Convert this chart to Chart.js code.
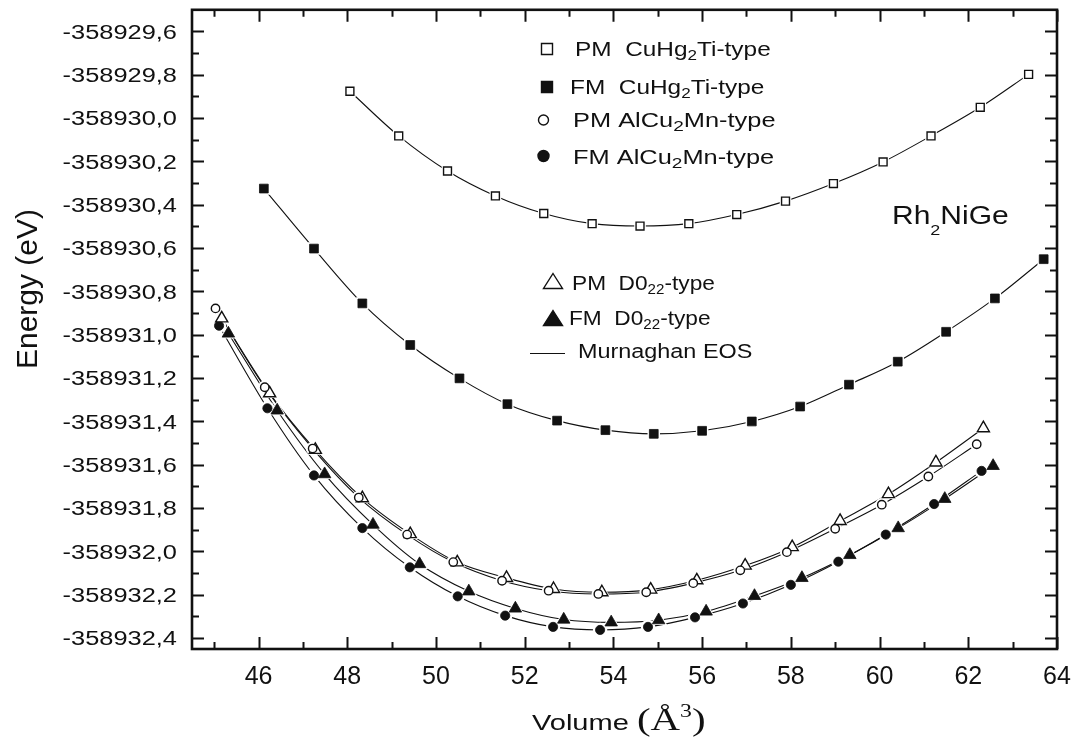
<!DOCTYPE html>
<html>
<head>
<meta charset="utf-8">
<title>Rh2NiGe – energy vs volume</title>
<script src="https://cdn.jsdelivr.net/npm/chart.js@4.4.1/dist/chart.umd.min.js"></script>
<style>
  html, body { margin: 0; padding: 0; background: #fff; }
  #wrap { width: 1074px; height: 742px; position: relative; }
</style>
</head>
<body>
<div id="wrap"><canvas id="chart"></canvas></div>
<script>
// ---- Data: volume (Å^3) and total energy (eV) for each phase ----
const volPMCuHg2Ti = [48.06, 49.16, 50.26, 51.34, 52.43, 53.52, 54.60, 55.70, 56.78, 57.88, 58.96, 60.08, 61.16, 62.27, 63.36];
const ePMCuHg2Ti   = [-358929.876, -358930.082, -358930.244, -358930.359, -358930.440, -358930.487, -358930.498, -358930.487, -358930.445, -358930.383, -358930.302, -358930.202, -358930.082, -358929.950, -358929.798];

const volFMCuHg2Ti = [46.12, 47.25, 48.34, 49.42, 50.53, 51.61, 52.73, 53.82, 54.91, 56.00, 57.12, 58.21, 59.31, 60.41, 61.50, 62.60, 63.70];
const eFMCuHg2Ti   = [-358930.325, -358930.602, -358930.855, -358931.047, -358931.201, -358931.320, -358931.396, -358931.440, -358931.457, -358931.443, -358931.400, -358931.331, -358931.230, -358931.124, -358930.986, -358930.832, -358930.651];

const volPMAlCu2Mn = [45.03, 46.14, 47.22, 48.26, 49.35, 50.39, 51.49, 52.54, 53.66, 54.74, 55.80, 56.86, 57.91, 59.00, 60.05, 61.10, 62.19];
const ePMAlCu2Mn   = [-358930.878, -358931.242, -358931.525, -358931.751, -358931.922, -358932.049, -358932.135, -358932.181, -358932.196, -358932.188, -358932.146, -358932.087, -358932.003, -358931.895, -358931.784, -358931.654, -358931.505];

const volFMAlCu2Mn = [45.11, 46.20, 47.25, 48.34, 49.41, 50.49, 51.56, 52.64, 53.70, 54.78, 55.84, 56.92, 58.00, 59.07, 60.14, 61.23, 62.30];
const eFMAlCu2Mn   = [-358930.958, -358931.339, -358931.649, -358931.892, -358932.073, -358932.207, -358932.296, -358932.348, -358932.362, -358932.348, -358932.304, -358932.240, -358932.154, -358932.047, -358931.922, -358931.781, -358931.628];

const volPMD022 = [45.17, 46.25, 47.28, 48.34, 49.42, 50.48, 51.59, 52.65, 53.74, 54.84, 55.88, 56.97, 58.03, 59.11, 60.20, 61.27, 62.34];
const ePMD022   = [-358930.924, -358931.270, -358931.531, -358931.754, -358931.920, -358932.050, -358932.122, -358932.173, -358932.188, -358932.176, -358932.133, -358932.065, -358931.980, -358931.859, -358931.735, -358931.589, -358931.431];

const volFMD022 = [45.32, 46.42, 47.49, 48.58, 49.63, 50.74, 51.79, 52.88, 53.95, 55.02, 56.09, 57.18, 58.25, 59.33, 60.42, 61.47, 62.56];
const eFMD022   = [-358930.994, -358931.349, -358931.643, -358931.876, -358932.058, -358932.184, -358932.263, -358932.314, -358932.327, -358932.317, -358932.277, -358932.205, -358932.122, -358932.016, -358931.892, -358931.757, -358931.605];

// ---- Axis ticks ----
const xMajorTicks = [46, 48, 50, 52, 54, 56, 58, 60, 62, 64];
const xMinorTicks = [45, 47, 49, 51, 53, 55, 57, 59, 61, 63];
const xTickLabels = ['46', '48', '50', '52', '54', '56', '58', '60', '62', '64'];
const yMajorTicks = [-358929.6, -358929.8, -358930.0, -358930.2, -358930.4, -358930.6, -358930.8,
                     -358931.0, -358931.2, -358931.4, -358931.6, -358931.8, -358932.0, -358932.2, -358932.4];
const yMinorTicks = [-358929.7, -358929.9, -358930.1, -358930.3, -358930.5, -358930.7, -358930.9,
                     -358931.1, -358931.3, -358931.5, -358931.7, -358931.9, -358932.1, -358932.3];
const yTickLabels = ['-358929,6', '-358929,8', '-358930,0', '-358930,2', '-358930,4', '-358930,6', '-358930,8',
                     '-358931,0', '-358931,2', '-358931,4', '-358931,6', '-358931,8', '-358932,0', '-358932,2', '-358932,4'];

// ---- Series appearance ----
const INK = '#111';
const series = [
  { vol: volPMCuHg2Ti, e: ePMCuHg2Ti, style: 'rect',     radius: 5.6, filled: false },
  { vol: volFMCuHg2Ti, e: eFMCuHg2Ti, style: 'rect',     radius: 6.2, filled: true  },
  { vol: volPMAlCu2Mn, e: ePMAlCu2Mn, style: 'circle',   radius: 4.2, filled: false },
  { vol: volPMD022,    e: ePMD022,    style: 'triangle', radius: 7.0, filled: false },
  { vol: volFMAlCu2Mn, e: eFMAlCu2Mn, style: 'circle',   radius: 4.6, filled: true  },
  { vol: volFMD022,    e: eFMD022,    style: 'triangle', radius: 7.2, filled: true  }
];

function points(s) { return s.vol.map((v, i) => ({ x: v, y: s.e[i] })); }

const datasets = [];
// fitted EOS curves (drawn first)
series.forEach(s => datasets.push({
  data: points(s), showLine: true, pointRadius: 0, borderColor: INK, borderWidth: 1.1,
  cubicInterpolationMode: 'monotone', order: 30
}));
// white rings that open a small gap in the curve around each symbol
series.forEach(s => datasets.push({
  data: points(s), showLine: false, pointStyle: s.style, pointRadius: s.radius + 2.6,
  pointBackgroundColor: '#fff', pointBorderColor: '#fff', pointBorderWidth: 0, order: 20
}));
// symbols
series.forEach(s => datasets.push({
  data: points(s), showLine: false, pointStyle: s.style, pointRadius: s.radius,
  pointBackgroundColor: s.filled ? INK : '#fff', pointBorderColor: INK,
  pointBorderWidth: s.filled ? 0.8 : 1.4, order: 10
}));

// ---- text helpers ----
function richText(ctx, segs, x, y, size, sx, family) {
  ctx.save();
  ctx.translate(x, y);
  ctx.scale(sx, 1);
  ctx.textBaseline = 'alphabetic';
  ctx.textAlign = 'left';
  let cx = 0;
  for (const s of segs) {
    const fs = s.size || size;
    ctx.font = fs + 'px ' + (s.family || family);
    ctx.fillText(s.t, cx, s.dy || 0);
    cx += ctx.measureText(s.t).width;
  }
  ctx.restore();
}

function marker(ctx, style, x, y, w, h, filled) {
  ctx.save();
  ctx.beginPath();
  if (style === 'rect') ctx.rect(x - w / 2, y - h / 2, w, h);
  else if (style === 'circle') ctx.ellipse(x, y, w / 2, h / 2, 0, 0, Math.PI * 2);
  else { ctx.moveTo(x, y - h / 2); ctx.lineTo(x + w / 2, y + h / 2); ctx.lineTo(x - w / 2, y + h / 2); ctx.closePath(); }
  ctx.fillStyle = filled ? INK : '#fff';
  ctx.fill();
  ctx.lineWidth = 1.4;
  ctx.strokeStyle = INK;
  ctx.stroke();
  ctx.restore();
}

const SANS = '"Liberation Sans", Arial, sans-serif';
const SERIF = '"Liberation Serif", "Times New Roman", serif';

// frame, inward ticks, tick labels, titles and legend
const framePlugin = {
  id: 'frame',
  beforeDraw(chart) {
    const ctx = chart.ctx;
    ctx.save();
    ctx.fillStyle = '#fff';
    ctx.fillRect(0, 0, chart.width, chart.height);
    ctx.restore();
  },
  afterDraw(chart) {
    const ctx = chart.ctx;
    const a = chart.chartArea;
    const xs = chart.scales.x, ys = chart.scales.y;
    ctx.save();
    ctx.strokeStyle = INK;
    ctx.fillStyle = INK;

    // ticks
    ctx.lineWidth = 2;
    const major = 12, minor = 7;
    ctx.beginPath();
    const xt = (v, len) => {
      const px = Math.round(xs.getPixelForValue(v)) + 0.5;
      ctx.moveTo(px, a.bottom); ctx.lineTo(px, a.bottom - len);
      ctx.moveTo(px, a.top); ctx.lineTo(px, a.top + len);
    };
    const yt = (v, len) => {
      const py = Math.round(ys.getPixelForValue(v)) + 0.5;
      ctx.moveTo(a.left, py); ctx.lineTo(a.left + len, py);
      ctx.moveTo(a.right, py); ctx.lineTo(a.right - len, py);
    };
    xMajorTicks.forEach(v => xt(v, major));
    xMinorTicks.forEach(v => xt(v, minor));
    yMajorTicks.forEach(v => yt(v, major));
    yMinorTicks.forEach(v => yt(v, minor));
    ctx.stroke();

    // frame
    ctx.lineWidth = 2.6;
    ctx.strokeRect(a.left, a.top, a.right - a.left, a.bottom - a.top);

    // y tick labels
    yMajorTicks.forEach((v, i) => {
      const py = ys.getPixelForValue(v);
      ctx.save();
      ctx.translate(a.left - 15, py + 7.2);
      ctx.scale(1.27, 1);
      ctx.font = '20px ' + SANS;
      ctx.textAlign = 'right';
      ctx.textBaseline = 'alphabetic';
      ctx.fillText(yTickLabels[i], 0, 0);
      ctx.restore();
    });

    // x tick labels
    ctx.font = '25px ' + SANS;
    ctx.textAlign = 'center';
    ctx.textBaseline = 'alphabetic';
    xMajorTicks.forEach((v, i) => {
      ctx.fillText(xTickLabels[i], xs.getPixelForValue(v), a.bottom + 35);
    });

    // axis titles
    richText(ctx, [
      { t: 'Volume ' },
      { t: '(Å', family: SERIF, size: 31 },
      { t: '3', family: SERIF, size: 18, dy: -13 },
      { t: ')', family: SERIF, size: 31 }
    ], 532, 730, 22, 1.32, SANS);

    ctx.save();
    ctx.translate(37, 289);
    ctx.rotate(-Math.PI / 2);
    ctx.font = '30px ' + SANS;
    ctx.textAlign = 'center';
    ctx.textBaseline = 'alphabetic';
    ctx.fillText('Energy (eV)', 0, 0);
    ctx.restore();

    // compound label
    richText(ctx, [
      { t: 'Rh' }, { t: '2', size: 15, dy: 11 }, { t: 'NiGe' }
    ], 892, 224, 25, 1.2, SANS);

    // legend
    marker(ctx, 'rect', 547, 49, 11, 11, false);
    richText(ctx, [{ t: 'PM  CuHg' }, { t: '2', size: 14, dy: 4 }, { t: 'Ti-type' }], 575, 56, 20, 1.22, SANS);
    marker(ctx, 'rect', 547, 87, 11, 11, true);
    richText(ctx, [{ t: 'FM  CuHg' }, { t: '2', size: 14, dy: 4 }, { t: 'Ti-type' }], 570, 94, 20, 1.22, SANS);
    marker(ctx, 'circle', 543.5, 120, 10, 10, false);
    richText(ctx, [{ t: 'PM AlCu' }, { t: '2', size: 15, dy: 4 }, { t: 'Mn-type' }], 573, 127, 20, 1.27, SANS);
    marker(ctx, 'circle', 543.5, 156, 11, 11, true);
    richText(ctx, [{ t: 'FM AlCu' }, { t: '2', size: 15, dy: 4 }, { t: 'Mn-type' }], 573, 164, 20, 1.27, SANS);

    marker(ctx, 'triangle', 553, 281, 19, 15, false);
    richText(ctx, [{ t: 'PM  D0' }, { t: '22', size: 14, dy: 4 }, { t: '-type' }], 572, 290, 21, 1.08, SANS);
    marker(ctx, 'triangle', 553, 318, 19, 15, true);
    richText(ctx, [{ t: 'FM  D0' }, { t: '22', size: 14, dy: 4 }, { t: '-type' }], 569, 325, 21, 1.08, SANS);
    ctx.lineWidth = 1.2;
    ctx.beginPath();
    ctx.moveTo(530, 353.5); ctx.lineTo(565, 353.5);
    ctx.stroke();
    richText(ctx, [{ t: 'Murnaghan EOS' }], 578, 358, 20, 1.17, SANS);

    ctx.restore();
  }
};

new Chart(document.getElementById('chart'), {
  type: 'scatter',
  data: { datasets },
  options: {
    responsive: true,
    maintainAspectRatio: false,
    devicePixelRatio: 1,
    animation: false,
    layout: { padding: { left: 192, top: 8, right: 17, bottom: 93 } },
    plugins: { legend: { display: false }, tooltip: { enabled: false } },
    scales: {
      x: { type: 'linear', min: 44.5, max: 64, display: false },
      y: { type: 'linear', min: -358932.45, max: -358929.5, display: false }
    }
  },
  plugins: [framePlugin]
});
</script>
</body>
</html>
